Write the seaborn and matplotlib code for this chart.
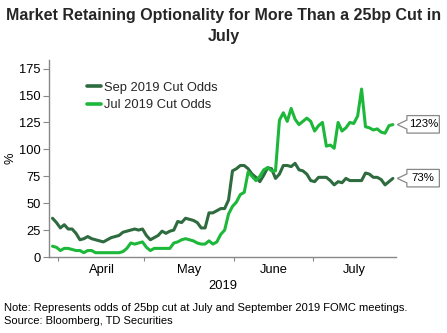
import matplotlib
matplotlib.use("Agg")
import matplotlib.pyplot as plt
from matplotlib.patches import Polygon
import numpy as np
import pandas as pd
import seaborn as sns

# Business days from late March to end of July 2019
start_date = "2019-03-28"

sep_odds = [36, 32, 27, 30, 26, 26, 22, 16, 17, 19,
            17, 16, 15, 14, 16, 18, 19, 20, 23, 24,
            25, 26, 25, 26, 20, 16, 18, 20, 24, 22,
            24, 25, 33, 32, 36, 35, 34, 32, 27, 27,
            41, 41, 43, 45, 45, 53, 80, 82, 85, 85,
            82, 77, 74, 70, 76, 83, 82, 73, 77, 85,
            85, 84, 87, 81, 80, 77, 71, 70, 74, 74,
            74, 71, 67, 70, 69, 73, 71, 71, 71, 71,
            78, 77, 74, 74, 72, 67, 70, 73]

jul_odds = [10, 9, 6, 8, 8, 7, 6, 6, 4, 6,
            6, 4, 4, 4, 4, 4, 4, 4, 5, 8,
            13, 12, 13, 14, 9, 6, 8, 8, 8, 8,
            8, 13, 14, 16, 17, 16, 15, 13, 12, 12,
            15, 12, 14, 21, 25, 40, 47, 51, 58, 60,
            79, 75, 71, 75, 81, 83, 80, 80, 127, 134,
            126, 138, 128, 123, 126, 129, 126, 117, 122, 125,
            103, 104, 101, 125, 117, 120, 125, 124, 131, 156,
            121, 120, 118, 119, 116, 115, 122, 123]

series_names = ["Sep 2019 Cut Odds", "Jul 2019 Cut Odds"]
series_colors = ["#2E6B3F", "#1DB83A"]
y_ticks = [0, 25, 50, 75, 100, 125, 150, 175]

dates = pd.bdate_range(start_date, periods=len(sep_odds))
pos = np.arange(len(dates))

df = pd.DataFrame({
    "pos": np.concatenate([pos, pos]),
    "value": sep_odds + jul_odds,
    "series": [series_names[0]] * len(pos) + [series_names[1]] * len(pos),
})

sns.set_theme(style="white")
plt.rcParams["font.family"] = ["Liberation Sans", "DejaVu Sans"]

fig = plt.figure(figsize=(4.47, 3.33), dpi=100)
ax = fig.add_axes([49 / 447, 1 - 257 / 333, (396 - 49) / 447, (257 - 60) / 333])

sns.lineplot(data=df, x="pos", y="value", hue="series", hue_order=series_names,
             palette=series_colors, linewidth=2.2, ax=ax, legend=True)

ax.set_xlim(-0.9, len(pos) - 1 + 0.8)
ax.set_ylim(0, 183)
ax.set_yticks(y_ticks)
ax.set_yticklabels([str(v) for v in y_ticks])

# Month boundaries as ticks, month names centred between them
months = dates.to_period("M")
bounds = [i - 0.5 for i in range(1, len(dates)) if months[i] != months[i - 1]]
ax.set_xticks(bounds)
ax.set_xticklabels([])
edges = bounds + [ax.get_xlim()[1]]
for left, right, name in zip(edges[:-1], edges[1:], ["April", "May", "June", "July"]):
    ax.text((left + right) / 2, -0.033, name, transform=ax.get_xaxis_transform(),
            ha="center", va="top", fontsize=9.3, color="#000000")

ax.set_xlabel("2019", fontsize=9.3, labelpad=10, color="#000000")
ax.set_ylabel("%", fontsize=9.3, labelpad=2, color="#000000")

for side in ["top", "right"]:
    ax.spines[side].set_visible(False)
for side in ["left", "bottom"]:
    ax.spines[side].set_color("#888888")
    ax.spines[side].set_linewidth(1.0)
ax.tick_params(axis="y", which="both", left=True, length=4, width=0.8, color="#888888",
               labelsize=9.3, pad=2, labelcolor="#000000")
ax.tick_params(axis="x", which="both", bottom=True, length=3, width=0.8, color="#888888")

leg = ax.legend(loc="upper left", bbox_to_anchor=(0.075, 0.95), frameon=False,
                fontsize=9.3, handlelength=1.1, handletextpad=0.25, labelspacing=0.45)
for line in leg.get_lines():
    line.set_linewidth(2.6)

fig.suptitle("Market Retaining Optionality for More Than a 25bp Cut in\nJuly",
             x=0.5, y=0.977, fontsize=11.5, fontweight="bold", linespacing=1.5)

# Callout boxes with the latest value of each series
def callout(x_val, y_val, text):
    fig.canvas.draw()
    to_disp = ax.transData
    to_data = ax.transData.inverted()
    px, py = to_disp.transform((x_val, y_val))
    offsets = [(4.5, 0), (14, 4.5), (14, 9), (46.5, 9), (46.5, -8.5),
               (14, -8.5), (14, -4.5)]
    verts = [to_data.transform((px + dx, py + dy)) for dx, dy in offsets]
    ax.add_patch(Polygon(verts, closed=True, facecolor="white", edgecolor="#888888",
                         linewidth=0.9, clip_on=False, zorder=5))
    tx, ty = to_data.transform((px + 30.5, py + 0.3))
    ax.text(tx, ty, text, ha="center", va="center", fontsize=8.2, color="#000000",
            clip_on=False, zorder=6)

callout(pos[-1], jul_odds[-1], f"{jul_odds[-1]}%")
callout(pos[-1], sep_odds[-1], f"{sep_odds[-1]}%")

fig.text(0.009, 1 - 308 / 333, "Note: Represents odds of 25bp cut at July and September 2019 FOMC meetings.",
         fontsize=8, va="center", ha="left", color="#000000")
fig.text(0.009, 1 - 321.5 / 333, "Source: Bloomberg, TD Securities",
         fontsize=8, va="center", ha="left", color="#000000")

fig.savefig("out.png", dpi=100, facecolor="white")
